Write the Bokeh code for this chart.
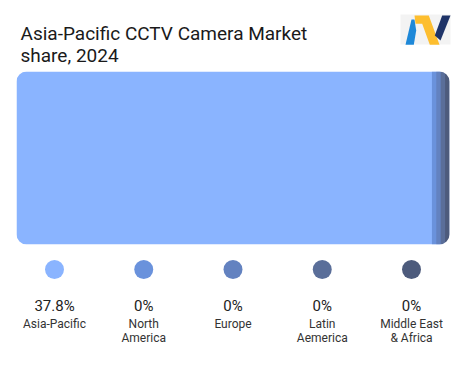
import numpy as np
from bokeh.plotting import figure
from bokeh.models import Range1d, ColumnDataSource
from bokeh.core.properties import value
from bokeh.embed import file_html
from bokeh.resources import INLINE

# ---- data ----
title_lines = ["Asia-Pacific CCTV Camera Market", "share, 2024"]
regions = ["Asia-Pacific", "North America", "Europe", "Latin Aemerica", "Middle East & Africa"]
region_labels = ["Asia-Pacific", "North\nAmerica", "Europe", "Latin\nAemerica", "Middle East\n& Africa"]
shares = [37.8, 0.4, 0.4, 0.4, 0.4]
share_labels = ["37.8%", "0%", "0%", "0%", "0%"]
colors = ["#8AB4FF", "#6A92DC", "#6382C0", "#5A6E99", "#4D5B7C"]

# ---- layout constants (screen pixels) ----
W, H = 463, 390
BAR_X0, BAR_X1 = 16, 449
BAR_TOP, BAR_BOTTOM = 71, 244
LEG_X0, LEG_STEP = 54, 89.25
FONT = value("Roboto")

total = float(sum(shares))
px_per = (BAR_X1 - BAR_X0) / total
share_range = Range1d(start=-BAR_X0 / px_per, end=total + (W - BAR_X1) / px_per)
n = len(regions)
slot_range = Range1d(start=-LEG_X0 / LEG_STEP, end=(n - 1) + (W - LEG_X0 - (n - 1) * LEG_STEP) / LEG_STEP)

p = figure(width=W, height=H, x_range=Range1d(0, W), y_range=Range1d(H, 0),
           output_backend="svg", toolbar_location=None, min_border=0,
           x_axis_location=None, y_axis_location=None,
           outline_line_color=None, background_fill_color="white",
           border_fill_color="white")
p.grid.visible = False
p.extra_x_ranges = {"share": share_range, "slot": slot_range}

# ---- title ----
p.text(x=[20, 20], y=[32.5, 55], text=title_lines, text_font=FONT,
       text_font_size="19px", text_color="#1a1a1a", text_align="left",
       text_baseline="alphabetic")

# ---- logo ----
p.quad(left=400, right=450, top=14, bottom=44, fill_color="#F3F3F3", line_color=None)
p.patches(xs=[[405, 413.3, 415.7, 414, 411],
              [414, 428.3, 439, 429.3, 421.7, 415],
              [441.7, 450, 440, 434.3]],
          ys=[[44.3, 44.3, 30, 19, 19],
              [15, 15, 44.3, 44.3, 23.3, 23.3],
              [15, 15, 40, 35]],
          fill_color=["#1E88D8", "#FDBE2F", "#1F3468"], line_color=None)

# ---- stacked bar ----
left = np.concatenate([[0.0], np.cumsum(shares)[:-1]])
bar_src = ColumnDataSource(dict(left=left, right=[total] * len(shares), color=colors))
p.quad(left="left", right="right", top=BAR_TOP, bottom=BAR_BOTTOM,
       fill_color="color", line_color=None, source=bar_src, x_range_name="share")
# rounded-corner mask
p.quad(left=BAR_X0 - 3, right=BAR_X1 + 3, top=BAR_TOP - 3, bottom=BAR_BOTTOM + 3,
       fill_color=None, line_color="white", line_width=6, border_radius=13)

# ---- legend ----
leg = ColumnDataSource(dict(slot=list(range(n)), label=region_labels,
                            pct=share_labels, color=colors))
p.scatter(x="slot", y=269, size=19, fill_color="color", line_color=None,
          source=leg, x_range_name="slot")
p.text(x="slot", y=305.5, text="pct", source=leg, x_range_name="slot",
       text_align="center", text_baseline="alphabetic", text_font=FONT,
       text_font_size="15px", text_color="#222222")
p.text(x="slot", y=316, text="label", source=leg, x_range_name="slot",
       text_align="center", text_baseline="top", text_font=FONT,
       text_font_size="12px", text_color="#333333", text_line_height=1.05)

open("out.html", "w").write(file_html(p, INLINE))
